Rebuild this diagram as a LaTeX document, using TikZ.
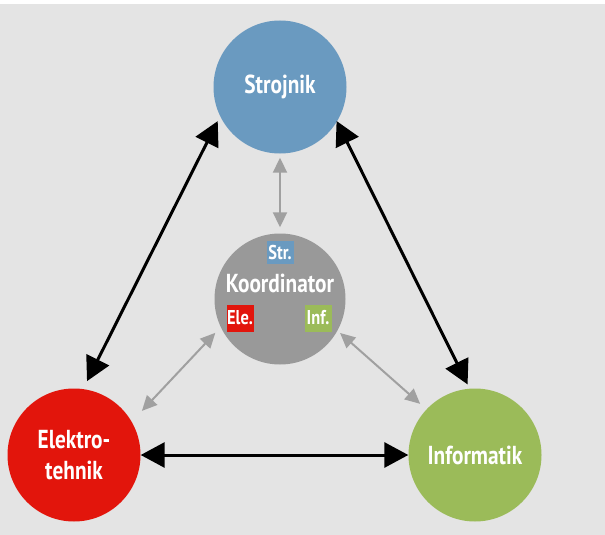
\documentclass[tikz,border=0pt]{standalone}
\usepackage{fontspec}
\setmainfont{PT Sans}[FakeStretch=0.82]
\usetikzlibrary{arrows.meta}
\definecolor{bg}{HTML}{E4E4E4}
\definecolor{strblue}{HTML}{6A9AC0}
\definecolor{elered}{HTML}{E2150C}
\definecolor{infgreen}{HTML}{9BBB59}
\definecolor{koorgray}{HTML}{999999}
\definecolor{linkgray}{HTML}{A0A0A0}
\tikzset{
  disc/.style={circle, minimum size=133pt, inner sep=0pt, text=white, font=\bfseries\fontsize{26}{31}\selectfont, align=center},
  tag/.style={minimum width=27pt, minimum height=23pt, inner sep=0pt, text=white, font=\bfseries\fontsize{20}{22}\selectfont},
  bigarrow/.style={line width=3pt, {Triangle[length=24pt,width=25pt]}-{Triangle[length=24pt,width=25pt]}},
  smallarrow/.style={line width=2pt, linkgray, {Triangle[length=15pt,width=14pt]}-{Triangle[length=15pt,width=14pt]}}
}
\begin{document}
\begin{tikzpicture}[x=1pt,y=-1pt]
\fill[white] (0,0) rectangle (605,535);
\fill[bg] (0,4) rectangle (605,535);
\useasboundingbox (0,0) rectangle (605,535);

\node[disc, fill=strblue] (s) at (280,87) {Strojnik};
\node[disc, fill=koorgray, minimum size=131pt] (k) at (280,299) {};
\node[disc, fill=elered] (e) at (74,455) {Elektro-\\tehnik};
\node[disc, fill=infgreen] (i) at (475,455) {Informatik};

\node[text=white, font=\bfseries\fontsize{26}{30}\selectfont] (kt) at (280,283) {Koordinator};
\node[tag, fill=strblue] (ts) at (280,252) {Str.};
\node[tag, fill=elered, minimum height=27pt] (te) at (240,318) {Ele.};
\node[tag, fill=infgreen, minimum height=27pt] (ti) at (318,318) {Inf.};

% black connectors
\draw[bigarrow] ([shift={(151.3:71)}]s.center) -- ([shift={(-80:75)}]e.center);
\draw[bigarrow] ([shift={(31:66)}]s.center) -- ([shift={(-96:71)}]i.center);
\draw[bigarrow] (e.east) -- (i.west);

% gray connectors
\draw[smallarrow] ([yshift=-4pt]s.south) -- ([yshift=6pt]k.north);
\draw[smallarrow] ([shift={(152.4:73)}]k.center) -- ([shift={(-33:81)}]e.center);
\draw[smallarrow] ([shift={(29.5:69)}]k.center) -- ([shift={(-137:75)}]i.center);
\end{tikzpicture}
\end{document}
